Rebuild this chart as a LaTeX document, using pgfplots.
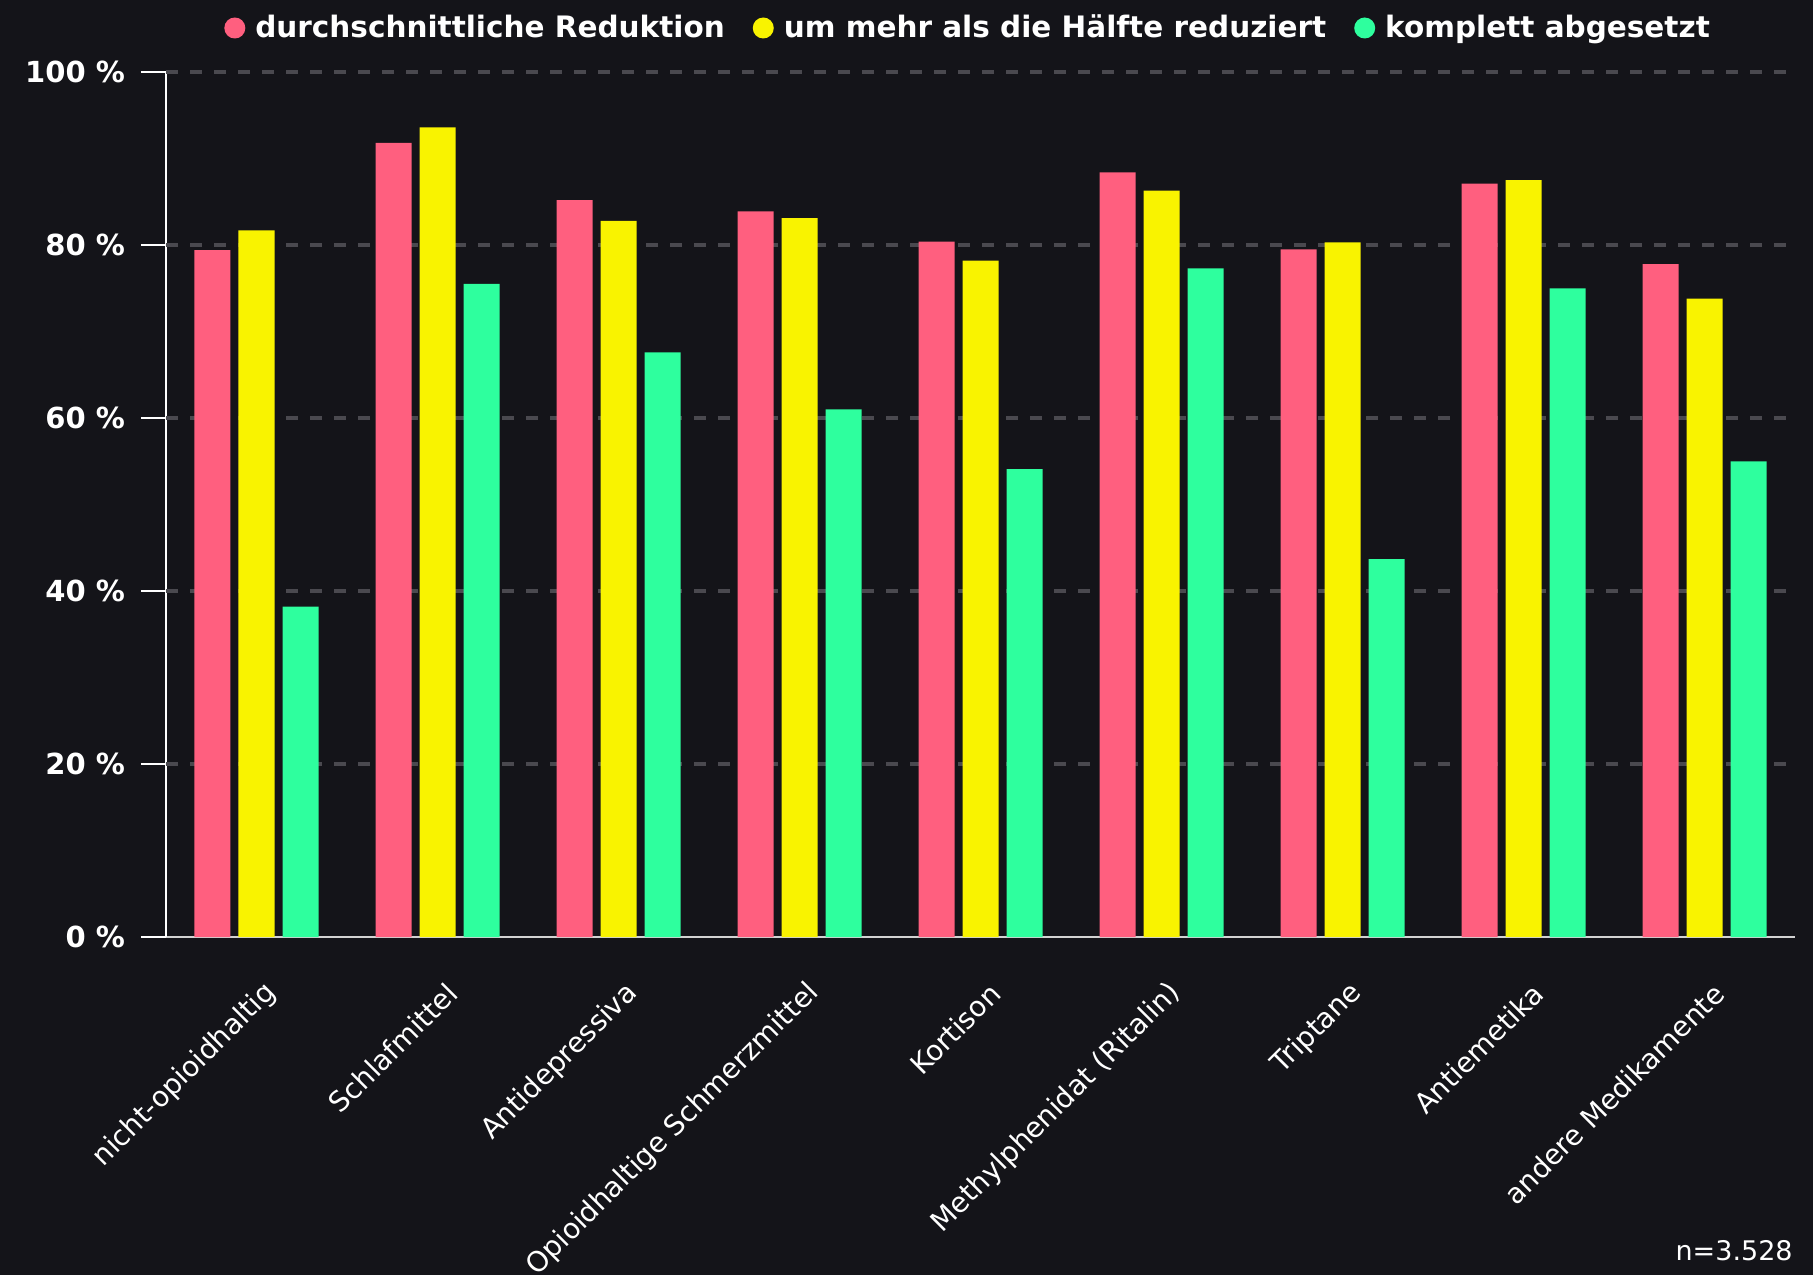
\documentclass[border=0pt]{standalone}
\usepackage{fontspec}
\setmainfont{DejaVu Sans}
\usepackage{pgfplots}
\pgfplotsset{compat=1.18}

\definecolor{bgc}{RGB}{20,20,25}
\definecolor{pinkc}{RGB}{255,95,127}
\definecolor{yellowc}{RGB}{249,243,0}
\definecolor{greenc}{RGB}{46,255,158}
\definecolor{gridc}{RGB}{74,73,79}
\definecolor{xaxisc}{RGB}{210,210,210}

\pgfplotsset{
  legend dot/.style={legend image code/.code={\fill[##1] (0pt,0pt) circle (5.25pt); \path (8.25pt,0pt);}},
}

\begin{document}
\begin{tikzpicture}
\fill[bgc] (-83pt,-169pt) rectangle (823.5pt,468.5pt);
\begin{axis}[
  at={(0,0)}, anchor=south west,
  scale only axis, width=814.5pt, height=432.5pt,
  ybar=4pt, bar width=18pt,
  xmin=-0.5, xmax=8.5, ymin=0, ymax=100,
  xtick={0,...,8},
  xticklabels={nicht-opioidhaltig, Schlafmittel, Antidepressiva, Opioidhaltige Schmerzmittel, Kortison, Methylphenidat (Ritalin), Triptane, Antiemetika, andere Medikamente},
  ytick={0,20,...,100},
  axis x line*=bottom, axis y line*=left,
  x axis line style={xaxisc, line width=1.3pt},
  y axis line style={white, line width=1pt},
  tick align=outside, major tick length=12.5pt,
  xtick style={draw=none},
  ytick style={white, line width=1pt},
  extra y ticks={20,40,60,80,100},
  extra y tick labels={},
  extra y tick style={grid=major, major tick length=0pt},
  grid style={gridc, line width=1.6pt, dash pattern=on 6pt off 6pt},
  /pgf/number format/assume math mode=true,
  yticklabel={\pgfmathprintnumber{\tick}~\%},
  yticklabel style={text=white, font=\bfseries\fontsize{14.5}{17}\selectfont, xshift=-4.5pt},
  xticklabel style={text=white, font=\fontsize{14}{17}\selectfont, inner sep=0pt, xshift=7.5pt, yshift=-13.2pt, rotate=45, anchor=east},
  legend style={at={(0.493,1)}, anchor=center, yshift=22pt, draw=none, fill=none, text=white,
    font=\bfseries\fontsize{14.75}{17}\selectfont,
    /tikz/every even column/.append style={column sep=12pt}},
  legend columns=3,
  clip=false,
]
\addplot[fill=pinkc, draw=none, legend dot] coordinates {(0,79.4) (1,91.8) (2,85.2) (3,83.9) (4,80.4) (5,88.4) (6,79.5) (7,87.1) (8,77.8)};
\addplot[fill=yellowc, draw=none, legend dot] coordinates {(0,81.7) (1,93.6) (2,82.8) (3,83.1) (4,78.2) (5,86.3) (6,80.3) (7,87.5) (8,73.8)};
\addplot[fill=greenc, draw=none, legend dot] coordinates {(0,38.2) (1,75.5) (2,67.6) (3,61.0) (4,54.1) (5,77.3) (6,43.7) (7,75.0) (8,55.0)};
\legend{durchschnittliche Reduktion, um mehr als die Hälfte reduziert, komplett abgesetzt}
\end{axis}
\node[anchor=east, text=white, font=\fontsize{13.5}{16}\selectfont, inner sep=0pt] at (813.5pt,-157pt) {n=3.528};
\pgfresetboundingbox
\path[use as bounding box] (-83pt,-169pt) rectangle (823.5pt,468.5pt);
\end{tikzpicture}
\end{document}
